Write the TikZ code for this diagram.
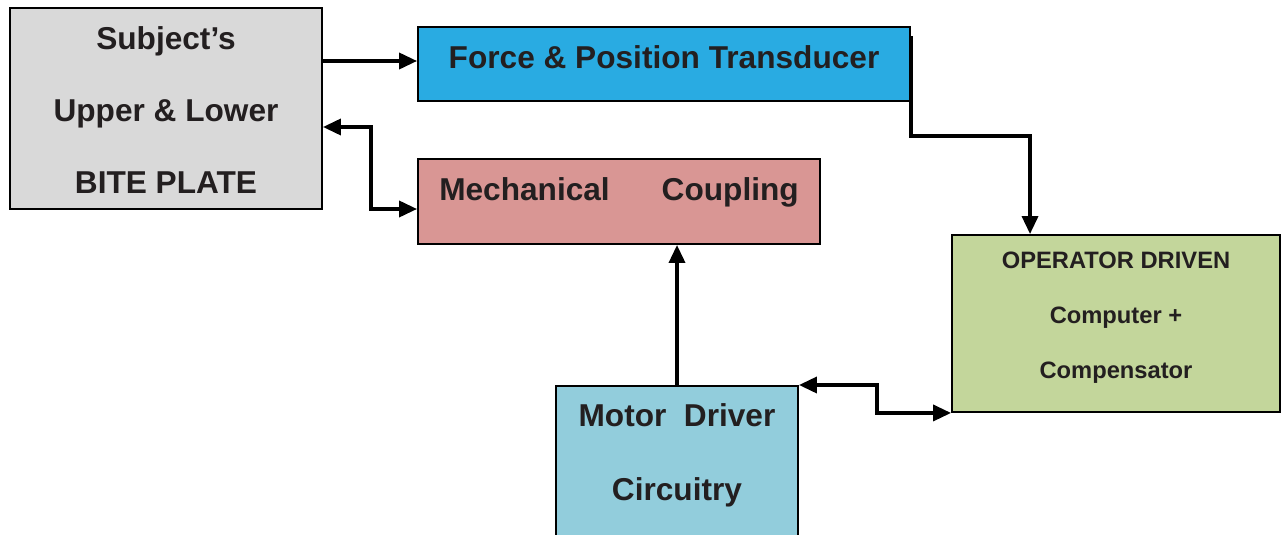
\documentclass[tikz,border=0pt]{standalone}
\usepackage{fontspec}
\setmainfont{Liberation Sans}
\usepackage{xcolor}
\usepackage{tikz}
\usetikzlibrary{positioning}
\usetikzlibrary{calc,arrows.meta}

\definecolor{plategray}{HTML}{D9D9D9}
\definecolor{transblue}{HTML}{29ABE2}
\definecolor{couplepink}{HTML}{D99694}
\definecolor{opgreen}{HTML}{C3D69B}
\definecolor{motorblue}{HTML}{92CDDC}
\definecolor{inkdark}{HTML}{231F20}

\begin{document}
\begin{tikzpicture}[x=0.02cm,y=-0.02cm,>={Triangle[length=0.36cm,width=0.32cm]},
  block/.style={rectangle,draw=black,line width=1.1pt,text=inkdark,align=center,
    font=\fontsize{18}{41}\selectfont\bfseries},
  link/.style={line width=2pt}]
\useasboundingbox (0,0) rectangle (1283,534);
\node[block,fill=plategray,minimum width=6.24cm,minimum height=4.02cm,text height=97pt] at (166,108.5) (plate) {Subject's\\Upper \& Lower\\BITE PLATE};
\node[block,fill=transblue,minimum width=9.84cm,minimum height=1.48cm,text depth=8pt] at (664,64) (trans) {Force \& Position Transducer};
\node[block,fill=couplepink,minimum width=8.04cm,minimum height=1.7cm,text depth=14pt] at (619,201.5) (couple) {Mechanical\hspace{1.04cm}Coupling};
\node[block,fill=opgreen,minimum width=6.56cm,minimum height=3.54cm,text depth=9pt,
  font=\fontsize{13.5}{31.3}\selectfont\bfseries] at (1116,323.5) (oper) {OPERATOR DRIVEN\\Computer +\\Compensator};
\node[block,fill=motorblue,minimum width=4.84cm,minimum height=3.5cm,anchor=north,text depth=24.3pt,
  font=\fontsize{18}{42}\selectfont\bfseries] at (677,385) (motor) {Motor\ \ Driver\\Circuitry};
\draw[link,->] ($(plate.east |- trans.west)+(0,-3)$) -- ($(trans.west)+(0,-3)$);
\draw[link,<->] ([yshift=-0.37cm]plate.east) -- ++(48,0) |- ([yshift=-0.15cm]couple.west);
\draw[link,->] ([yshift=-0.2cm]trans.north east) -- ([yshift=-0.68cm]trans.south east) -| ([xshift=-1.72cm]oper.north);
\draw[link,->] (motor.north) -- (motor.north |- couple.south);
\draw[link,<->] (motor.north east) -- ++(78,0) |- (oper.south west);
\end{tikzpicture}
\end{document}
